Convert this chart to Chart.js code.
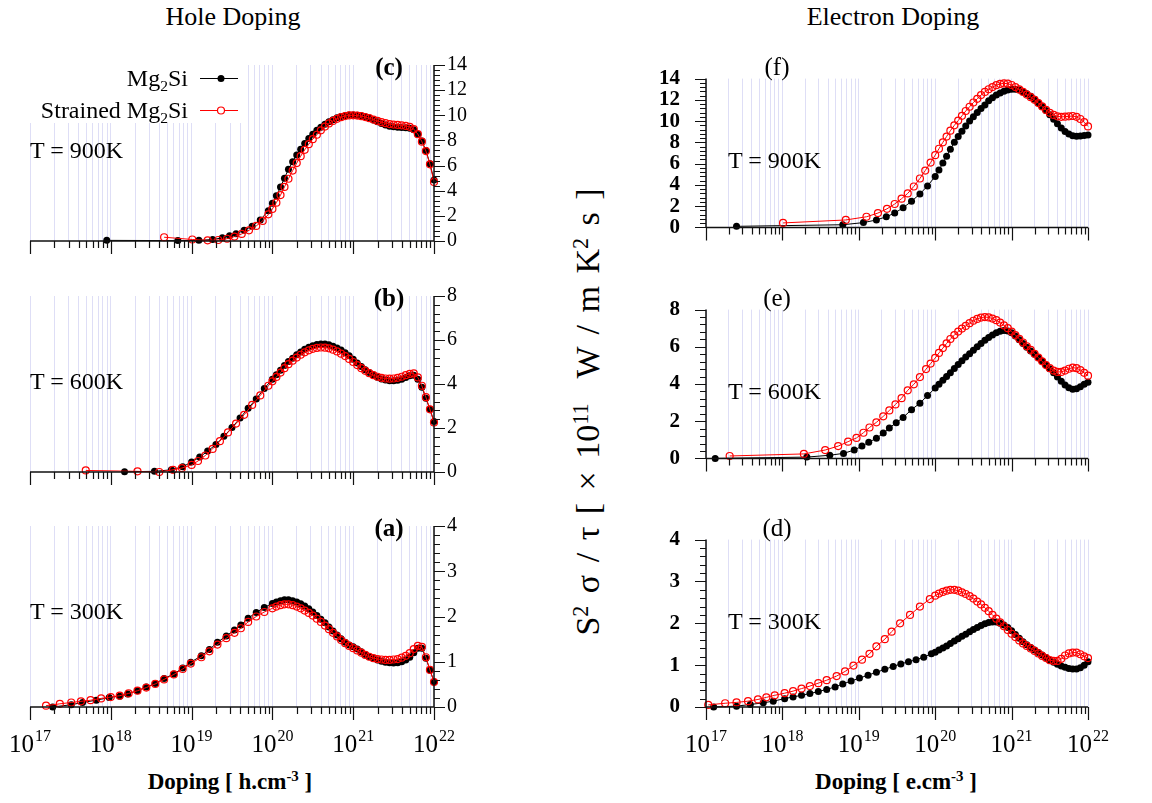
<!DOCTYPE html>
<html>
<head>
<meta charset="utf-8">
<script src="https://cdn.jsdelivr.net/npm/chart.js@4.4.1/dist/chart.umd.min.js"></script>
<style>
  body { margin: 0; background: #fff; }
  #page { position: relative; width: 1152px; height: 803px; overflow: hidden; background: #fff;
          font-family: 'Liberation Serif', 'Times New Roman', serif; color: #000; }
  canvas.panel { position: absolute; }
  .lbl { position: absolute; white-space: nowrap; line-height: 1; }
  .c { transform: translate(-50%, -50%); }
  .l { transform: translate(0, -50%); }
  sup { font-size: 0.65em; vertical-align: 0.5em; line-height: 0; }
  sub { font-size: 0.65em; vertical-align: -0.3em; line-height: 0; }
  #legend { position: absolute; left: 30px; top: 63px; width: 215px; height: 60px; background: #fff; }
  #ytitle { position: absolute; left: 588px; top: 412px; white-space: nowrap; font-size: 34px; word-spacing: 4px;
            transform: translate(-50%, -50%) rotate(-90deg); line-height: 1; }
</style>
</head>
<body>
<div id="page">
  <div class="lbl c" style="left:233px; top:17px; font-size:26px;">Hole Doping</div>
  <div class="lbl c" style="left:893px; top:17px; font-size:26px;">Electron Doping</div>
  <div id="ytitle">S<sup>2</sup> σ / τ [ × 10<sup>11</sup>&nbsp; W / m K<sup>2</sup> s ]</div>
  <div class="lbl c" style="left:230px; top:781px; font-size:23px; font-weight:bold;">Doping [ h.cm<sup>-3</sup> ]</div>
  <div class="lbl c" style="left:896px; top:781px; font-size:23px; font-weight:bold;">Doping [ e.cm<sup>-3</sup> ]</div>
</div>
<script>
// Doping grid shared by the dense high-doping part of every curve (cm^-3)
const dopingHigh = [1e20, 1.12e20, 1.26e20, 1.41e20, 1.58e20, 1.78e20, 2e20, 2.24e20, 2.51e20, 2.82e20,
  3.16e20, 3.55e20, 3.98e20, 4.47e20, 5.01e20, 5.62e20, 6.31e20, 7.08e20, 7.94e20, 8.91e20,
  1e21, 1.12e21, 1.26e21, 1.41e21, 1.58e21, 1.78e21, 2e21, 2.24e21, 2.51e21, 2.82e21,
  3.16e21, 3.55e21, 3.98e21, 4.47e21, 5.01e21, 5.62e21, 6.31e21, 7.08e21, 7.94e21, 8.91e21, 1e22];

// ---- Hole doping, T = 900K (c)
const lowNHole900Pure = [8.91e17, 6.76e18, 1.23e19, 1.82e19, 2.4e19, 2.95e19, 3.55e19, 4.47e19, 5.62e19, 7.08e19, 8.91e19];
const lowPfHole900Pure = [0.05, 0.03, 0.05, 0.12, 0.25, 0.42, 0.58, 0.85, 1.18, 1.68, 2.4];
const highPfHole900Pure = [3.0, 3.6, 4.3, 5.0, 5.7, 6.3, 6.85, 7.3, 7.75, 8.15,
  8.5, 8.8, 9.05, 9.28, 9.48, 9.65, 9.8, 9.9, 9.97, 10.02,
  10.03, 10.01, 9.96, 9.88, 9.78, 9.63, 9.48, 9.34, 9.22, 9.13,
  9.08, 9.05, 9.03, 9.0, 8.96, 8.85, 8.5, 7.95, 7.2, 6.15, 4.85];
const lowNHole900Str = [4.57e18, 1.02e19, 1.58e19, 2.14e19, 2.75e19, 3.39e19, 4.17e19, 5.13e19, 6.31e19, 7.59e19, 8.91e19];
const lowPfHole900Str = [0.3, 0.12, 0.05, 0.08, 0.18, 0.35, 0.56, 0.85, 1.2, 1.6, 2.12];
const highPfHole900Str = [2.55, 3.05, 3.65, 4.3, 4.95, 5.6, 6.2, 6.75, 7.25, 7.7,
  8.1, 8.45, 8.8, 9.1, 9.35, 9.55, 9.72, 9.85, 9.94, 9.99,
  10.0, 9.98, 9.93, 9.86, 9.77, 9.66, 9.55, 9.45, 9.37, 9.3,
  9.26, 9.23, 9.2, 9.15, 9.08, 8.9, 8.5, 7.9, 7.15, 6.1, 4.7];

// ---- Hole doping, T = 600K (b)
const lowNHole600Pure = [1.48e18, 3.47e18, 5.62e18, 7.76e18, 1e19, 1.26e19, 1.58e19, 2e19, 2.51e19, 3.16e19, 3.98e19, 5.01e19, 6.31e19, 7.94e19];
const lowPfHole600Pure = [0.01, 0.03, 0.1, 0.24, 0.45, 0.68, 0.95, 1.25, 1.62, 2.02, 2.45, 2.9, 3.32, 3.8];
const highPfHole600Pure = [4.22, 4.42, 4.62, 4.84, 5.02, 5.17, 5.33, 5.46, 5.58, 5.67,
  5.74, 5.79, 5.82, 5.82, 5.78, 5.72, 5.64, 5.54, 5.42, 5.28,
  5.12, 4.96, 4.8, 4.65, 4.52, 4.41, 4.31, 4.23, 4.18, 4.15,
  4.15, 4.17, 4.22, 4.3, 4.38, 4.4, 4.22, 3.85, 3.35, 2.85, 2.3];
const lowNHole600Str = [4.9e17, 2.14e18, 3.98e18, 5.89e18, 7.59e18, 1e19, 1.2e19, 1.48e19, 1.82e19, 2.24e19, 2.82e19, 3.55e19, 4.47e19, 5.62e19, 7.08e19, 8.91e19];
const lowPfHole600Str = [0.07, 0.03, 0.0, 0.1, 0.18, 0.32, 0.5, 0.75, 1.05, 1.4, 1.8, 2.2, 2.6, 3.05, 3.48, 3.92];
const highPfHole600Str = [4.12, 4.32, 4.52, 4.72, 4.9, 5.06, 5.2, 5.33, 5.44, 5.53,
  5.6, 5.64, 5.66, 5.65, 5.62, 5.56, 5.48, 5.38, 5.27, 5.14,
  5.0, 4.86, 4.72, 4.6, 4.49, 4.4, 4.33, 4.28, 4.25, 4.24,
  4.25, 4.28, 4.33, 4.4, 4.46, 4.48, 4.3, 3.92, 3.4, 2.85, 2.25];

// ---- Hole doping, T = 300K (a)
const lowNHole300Pure = [1.91e17, 3.24e17, 4.47e17, 6.61e17, 9.55e17, 1.29e18, 1.62e18, 2.14e18, 2.75e18, 3.55e18, 4.57e18, 6.03e18,
  7.76e18, 9.77e18, 1.32e19, 1.66e19, 2.09e19, 2.69e19, 3.39e19, 4.07e19, 5.01e19, 6.31e19, 7.94e19];
const lowPfHole300Pure = [0.0, 0.05, 0.1, 0.15, 0.21, 0.24, 0.29, 0.36, 0.44, 0.52, 0.63, 0.73,
  0.86, 0.99, 1.13, 1.27, 1.43, 1.57, 1.7, 1.81, 1.96, 2.09, 2.2];
const highPfHole300Pure = [2.29, 2.32, 2.35, 2.37, 2.37, 2.35, 2.32, 2.28, 2.23, 2.17,
  2.1, 2.02, 1.94, 1.86, 1.77, 1.68, 1.59, 1.51, 1.43, 1.37,
  1.33, 1.28, 1.22, 1.16, 1.11, 1.07, 1.04, 1.01, 0.99, 0.98,
  0.97, 0.98, 1.0, 1.04, 1.1, 1.2, 1.3, 1.3, 1.08, 0.82, 0.56];
const lowNHole300Str = [1.58e17, 2.34e17, 3.24e17, 4.27e17, 5.62e17, 7.59e17, 1e18, 1.29e18, 1.66e18, 2.14e18, 2.75e18, 3.55e18, 4.57e18,
  6.03e18, 7.76e18, 9.77e18, 1.32e19, 1.66e19, 2.09e19, 2.69e19, 3.39e19, 4.07e19, 5.01e19, 6.31e19, 7.94e19];
const lowPfHole300Str = [0.03, 0.07, 0.1, 0.125, 0.15, 0.19, 0.22, 0.25, 0.3, 0.36, 0.43, 0.51, 0.61,
  0.72, 0.84, 0.96, 1.1, 1.23, 1.38, 1.52, 1.64, 1.74, 1.88, 2.0, 2.1];
const highPfHole300Str = [2.18, 2.22, 2.25, 2.27, 2.27, 2.25, 2.22, 2.18, 2.13, 2.08,
  2.02, 1.95, 1.88, 1.8, 1.72, 1.64, 1.56, 1.48, 1.41, 1.35,
  1.3, 1.25, 1.2, 1.15, 1.11, 1.08, 1.06, 1.05, 1.04, 1.04,
  1.05, 1.06, 1.09, 1.13, 1.19, 1.28, 1.35, 1.33, 1.1, 0.82, 0.55];

// ---- Electron doping, T = 900K (f)
const lowNElec900Pure = [2.51e17, 6.17e18, 1.15e19, 1.7e19, 2.29e19, 2.95e19, 3.8e19, 4.9e19, 6.31e19, 7.94e19];
const lowPfElec900Pure = [0.1, 0.25, 0.45, 0.7, 1.0, 1.35, 1.85, 2.45, 3.15, 3.9];
const highPfElec900Pure = [4.8, 5.4, 6.05, 6.7, 7.35, 8.0, 8.55, 9.05, 9.55, 10.0,
  10.42, 10.8, 11.18, 11.52, 11.92, 12.2, 12.45, 12.65, 12.8, 12.93,
  13.0, 13.0, 12.92, 12.77, 12.57, 12.33, 12.05, 11.73, 11.38, 11.0,
  10.6, 10.18, 9.75, 9.35, 9.02, 8.78, 8.62, 8.58, 8.6, 8.65, 8.7];
const lowNElec900Str = [1.02e18, 6.76e18, 1.26e19, 1.78e19, 2.34e19, 2.95e19, 3.63e19, 4.37e19, 5.25e19, 6.31e19, 7.41e19, 8.71e19];
const lowPfElec900Str = [0.42, 0.7, 1.0, 1.35, 1.75, 2.2, 2.7, 3.2, 3.85, 4.6, 5.35, 6.1];
const highPfElec900Str = [6.8, 7.4, 8.0, 8.55, 9.1, 9.6, 10.05, 10.5, 10.95, 11.35,
  11.75, 12.1, 12.45, 12.75, 13.0, 13.2, 13.38, 13.5, 13.55, 13.52,
  13.4, 13.2, 12.98, 12.75, 12.5, 12.25, 12.0, 11.7, 11.38, 11.05,
  10.78, 10.58, 10.45, 10.4, 10.42, 10.45, 10.48, 10.4, 10.2, 9.9, 9.5];

// ---- Electron doping, T = 600K (e)
const lowNElec600Pure = [1.32e17, 2.09e18, 4.17e18, 6.31e18, 8.71e18, 1.1e19, 1.35e19, 1.7e19, 2.09e19, 2.51e19, 3.09e19, 3.8e19, 4.9e19, 6.31e19, 7.94e19];
const lowPfElec600Pure = [0.0, 0.07, 0.17, 0.27, 0.45, 0.66, 0.87, 1.08, 1.36, 1.64, 1.92, 2.2, 2.62, 2.97, 3.38];
const highPfElec600Pure = [3.78, 3.98, 4.2, 4.4, 4.6, 4.83, 5.05, 5.25, 5.45, 5.63,
  5.82, 6.0, 6.18, 6.35, 6.5, 6.63, 6.75, 6.83, 6.87, 6.85,
  6.75, 6.58, 6.38, 6.18, 5.98, 5.78, 5.6, 5.42, 5.22, 5.02,
  4.82, 4.6, 4.38, 4.15, 3.95, 3.8, 3.72, 3.75, 3.85, 3.98, 4.1];
const lowNElec600Str = [2.04e17, 1.91e18, 3.63e18, 5.37e18, 7.24e18, 9.33e18, 1.15e19, 1.38e19, 1.7e19, 2.09e19, 2.51e19, 3.02e19,
  3.63e19, 4.37e19, 5.25e19, 6.31e19, 7.59e19, 8.71e19];
const lowPfElec600Str = [0.13, 0.24, 0.45, 0.66, 0.9, 1.1, 1.38, 1.66, 1.94, 2.26, 2.58, 2.9,
  3.24, 3.66, 3.98, 4.37, 4.8, 5.1];
const highPfElec600Str = [5.4, 5.67, 5.93, 6.18, 6.42, 6.63, 6.82, 6.98, 7.12, 7.27,
  7.4, 7.5, 7.57, 7.6, 7.58, 7.52, 7.43, 7.3, 7.15, 7.0,
  6.82, 6.63, 6.43, 6.23, 6.03, 5.83, 5.62, 5.42, 5.22, 5.02,
  4.85, 4.72, 4.65, 4.65, 4.72, 4.82, 4.88, 4.85, 4.75, 4.6, 4.45];

// ---- Electron doping, T = 300K (d)
const lowNElec300Pure = [1.26e17, 2.51e17, 3.8e17, 5.62e17, 7.59e17, 1.07e18, 1.38e18, 1.78e18, 2.29e18, 2.95e18, 3.8e18, 4.9e18,
  6.17e18, 7.94e18, 1.02e19, 1.32e19, 1.7e19, 2.19e19, 2.82e19, 3.55e19, 4.47e19, 5.62e19, 7.08e19, 8.91e19];
const lowPfElec300Pure = [0.0, 0.02, 0.06, 0.1, 0.14, 0.2, 0.24, 0.28, 0.32, 0.37, 0.42, 0.48,
  0.55, 0.62, 0.69, 0.76, 0.83, 0.9, 0.97, 1.03, 1.08, 1.13, 1.19, 1.27];
const highPfElec300Pure = [1.31, 1.36, 1.41, 1.46, 1.52, 1.58, 1.63, 1.69, 1.74, 1.8,
  1.85, 1.9, 1.95, 1.99, 2.02, 2.03, 2.03, 2.0, 1.96, 1.9,
  1.82, 1.73, 1.64, 1.56, 1.49, 1.42, 1.36, 1.3, 1.24, 1.18,
  1.12, 1.07, 1.02, 0.98, 0.95, 0.92, 0.91, 0.91, 0.94, 1.0, 1.08];
const lowNElec300Str = [1.07e17, 1.78e17, 2.51e17, 3.55e17, 4.79e17, 6.17e17, 7.94e17, 1.07e18, 1.38e18, 1.78e18, 2.29e18, 2.95e18, 3.8e18,
  5.13e18, 6.61e18, 8.51e18, 1.1e19, 1.38e19, 1.7e19, 2.19e19, 2.69e19, 3.47e19, 4.68e19, 6.31e19, 8.51e19];
const lowPfElec300Str = [0.05, 0.09, 0.11, 0.14, 0.18, 0.23, 0.28, 0.33, 0.38, 0.44, 0.5, 0.57, 0.64,
  0.74, 0.85, 0.99, 1.13, 1.27, 1.45, 1.62, 1.8, 2.0, 2.2, 2.4, 2.58];
const highPfElec300Str = [2.66, 2.71, 2.75, 2.78, 2.8, 2.8, 2.78, 2.74, 2.7, 2.65,
  2.59, 2.52, 2.45, 2.37, 2.29, 2.2, 2.11, 2.02, 1.93, 1.84,
  1.75, 1.67, 1.59, 1.52, 1.46, 1.4, 1.34, 1.28, 1.22, 1.17,
  1.12, 1.1, 1.1, 1.15, 1.23, 1.28, 1.3, 1.3, 1.26, 1.21, 1.17];

// axis ticks
const decadeExps = [17, 18, 19, 20, 21, 22];
const minorMults = [2, 3, 4, 5, 6, 7, 8, 9];
const seriesNames = ['Mg2Si', 'Strained Mg2Si'];

function curve(lowN, lowPf, highPf) {
  return lowN.map((n, i) => ({x: n, y: lowPf[i]}))
    .concat(dopingHigh.map((n, i) => ({x: n, y: highPf[i]})));
}

const panels = [
  {tag: '(c)', temp: 'T = 900K', col: 0, row: 0, ymax: 14, major: 2, minor: 0.4,
   pure: curve(lowNHole900Pure, lowPfHole900Pure, highPfHole900Pure), str: curve(lowNHole900Str, lowPfHole900Str, highPfHole900Str)},
  {tag: '(b)', temp: 'T = 600K', col: 0, row: 1, ymax: 8, major: 2, minor: 0.4,
   pure: curve(lowNHole600Pure, lowPfHole600Pure, highPfHole600Pure), str: curve(lowNHole600Str, lowPfHole600Str, highPfHole600Str)},
  {tag: '(a)', temp: 'T = 300K', col: 0, row: 2, ymax: 4, major: 1, minor: 0.2,
   pure: curve(lowNHole300Pure, lowPfHole300Pure, highPfHole300Pure), str: curve(lowNHole300Str, lowPfHole300Str, highPfHole300Str)},
  {tag: '(f)', temp: 'T = 900K', col: 1, row: 0, ymax: 14, major: 2, minor: 0.4,
   pure: curve(lowNElec900Pure, lowPfElec900Pure, highPfElec900Pure), str: curve(lowNElec900Str, lowPfElec900Str, highPfElec900Str)},
  {tag: '(e)', temp: 'T = 600K', col: 1, row: 1, ymax: 8, major: 2, minor: 0.4,
   pure: curve(lowNElec600Pure, lowPfElec600Pure, highPfElec600Pure), str: curve(lowNElec600Str, lowPfElec600Str, highPfElec600Str)},
  {tag: '(d)', temp: 'T = 300K', col: 1, row: 2, ymax: 4, major: 1, minor: 0.2,
   pure: curve(lowNElec300Pure, lowPfElec300Pure, highPfElec300Pure), str: curve(lowNElec300Str, lowPfElec300Str, highPfElec300Str)}
];

const xGrid = [];
decadeExps.forEach(e => {
  xGrid.push(Math.pow(10, e));
  if (e < 22) minorMults.forEach(m => xGrid.push(m * Math.pow(10, e)));
});

Chart.defaults.font.family = "'Liberation Serif', 'Times New Roman', serif";
Chart.defaults.color = '#000';

const page = document.getElementById('page');
const colLeft = [0, 640];
const rowTop = [54, 285, 515];
const areaH = 192;
const topPad = 14;

// axis lines, tick marks and 10^n labels
const panelAxes = {
  id: 'panelAxes',
  afterDraw(chart, args, o) {
    const {ctx, chartArea: a, scales: {x, y}} = chart;
    const yx = o.side === 'right' ? a.right : a.left;
    const dir = o.side === 'right' ? 1 : -1;
    ctx.save();
    ctx.strokeStyle = '#111';
    ctx.lineWidth = 1.5;
    ctx.beginPath();
    ctx.moveTo(a.left, a.bottom); ctx.lineTo(a.right, a.bottom);
    ctx.moveTo(yx, a.top); ctx.lineTo(yx, a.bottom);
    ctx.stroke();
    ctx.lineWidth = 1.2;
    ctx.beginPath();
    xGrid.forEach(v => {
      const px = Math.round(x.getPixelForValue(v)) + 0.5;
      const major = decadeExps.some(e => Math.abs(v / Math.pow(10, e) - 1) < 1e-9);
      ctx.moveTo(px, a.bottom); ctx.lineTo(px, a.bottom + (major ? 13 : 7));
    });
    const n = Math.round(y.max / o.minor);
    for (let i = 0; i <= n; i++) {
      const v = i * o.minor;
      const py = Math.round(y.getPixelForValue(v)) + 0.5;
      const major = Math.abs(v / o.major - Math.round(v / o.major)) < 1e-6;
      ctx.moveTo(yx, py); ctx.lineTo(yx + dir * (major ? 11 : 6), py);
    }
    ctx.stroke();
    if (o.labels) {
      ctx.fillStyle = '#000';
      ctx.textAlign = 'left';
      ctx.textBaseline = 'alphabetic';
      decadeExps.forEach(e => {
        const px = x.getPixelForValue(Math.pow(10, e));
        ctx.font = "25px 'Liberation Serif'";
        const w10 = ctx.measureText('10').width;
        ctx.font = "16px 'Liberation Serif'";
        const we = ctx.measureText(String(e)).width;
        const start = px - (w10 + we + 1) / 2;
        ctx.font = "25px 'Liberation Serif'";
        ctx.fillText('10', start, a.bottom + 45);
        ctx.font = "16px 'Liberation Serif'";
        ctx.fillText(String(e), start + w10 + 1, a.bottom + 34);
      });
    }
    ctx.restore();
  }
};

panels.forEach(p => {
  const left = p.col === 0;
  const bottomSpace = p.row === 2 ? 55 : 20;
  const cv = document.createElement('canvas');
  cv.className = 'panel';
  cv.width = 480;
  cv.height = topPad + areaH + bottomSpace;
  cv.style.left = colLeft[p.col] + 'px';
  cv.style.top = (rowTop[p.row] - topPad) + 'px';
  page.appendChild(cv);

  new Chart(cv, {
    type: 'line',
    data: {
      datasets: [
        {label: seriesNames[1], data: p.str, order: 1, clip: false,
         borderColor: '#ff0000', borderWidth: 1, pointRadius: 3.5, pointBorderWidth: 1.2,
         pointBorderColor: '#ff0000', pointBackgroundColor: 'rgba(255,255,255,0)'},
        {label: seriesNames[0], data: p.pure, order: 2, clip: false,
         borderColor: '#000', borderWidth: 1, pointRadius: 3.5, pointBorderWidth: 0,
         pointBorderColor: '#000', pointBackgroundColor: '#000'}
      ]
    },
    options: {
      responsive: false,
      animation: false,
      devicePixelRatio: 1,
      layout: {padding: {left: left ? 30 : 0, right: left ? 0 : 32, top: topPad, bottom: 0}},
      plugins: {
        legend: {display: false},
        tooltip: {enabled: false},
        panelAxes: {side: left ? 'right' : 'left', major: p.major, minor: p.minor, labels: p.row === 2}
      },
      scales: {
        x: {
          type: 'logarithmic', min: 1e17, max: 1e22,
          ticks: {display: false},
          grid: {color: 'rgb(222,222,246)', lineWidth: 1, drawTicks: false},
          border: {display: false},
          afterBuildTicks: s => { s.ticks = xGrid.map(v => ({value: v})); },
          afterFit: s => { s.height = bottomSpace; }
        },
        y: {
          type: 'linear', position: left ? 'right' : 'left', min: 0, max: p.ymax,
          ticks: {stepSize: p.major, padding: left ? 13 : 26,
                  font: left ? {size: 20} : {size: 21, weight: 'bold'}},
          grid: {display: false, drawTicks: false},
          border: {display: false},
          afterFit: s => { s.width = left ? 46 : 66; }
        }
      }
    },
    plugins: [panelAxes]
  });

  const top = rowTop[p.row];
  const tl = document.createElement('div');
  tl.className = 'lbl l';
  tl.style.cssText = 'font-size:24px; left:' + (left ? 30 : 728) + 'px; top:' + (top + (left ? 96 : 106)) + 'px;';
  tl.textContent = p.temp;
  page.appendChild(tl);

  const pl = document.createElement('div');
  pl.className = 'lbl c';
  pl.style.cssText = 'font-size:25px; left:' + (left ? 389 : 777) + 'px; top:' + (top + 12) + 'px;' + (left ? 'font-weight:bold;' : '');
  pl.textContent = p.tag;
  page.appendChild(pl);
});

// legend inside panel (c)
const legend = document.createElement('div');
legend.id = 'legend';
legend.innerHTML =
  '<div class="lbl" style="right:57px; top:15px; font-size:24px; transform:translate(0,-50%);">Mg<sub>2</sub>Si</div>' +
  '<div class="lbl" style="right:57px; top:47px; font-size:24px; transform:translate(0,-50%);">Strained Mg<sub>2</sub>Si</div>';
page.appendChild(legend);
const keys = document.createElement('canvas');
keys.width = 44; keys.height = 56;
keys.style.cssText = 'position:absolute; left:198px; top:66px;';
legend.after(keys);
const kc = keys.getContext('2d');
[[12, '#000', true], [44, '#ff0000', false]].forEach(([ky, col, filled]) => {
  kc.strokeStyle = col; kc.lineWidth = 1.2;
  kc.beginPath(); kc.moveTo(2, ky + 0.5); kc.lineTo(40, ky + 0.5); kc.stroke();
  kc.beginPath(); kc.arc(23, ky + 0.5, 3.5, 0, Math.PI * 2);
  if (filled) { kc.fillStyle = col; kc.fill(); }
  else { kc.fillStyle = '#fff'; kc.fill(); kc.stroke(); }
});
</script>
</body>
</html>
